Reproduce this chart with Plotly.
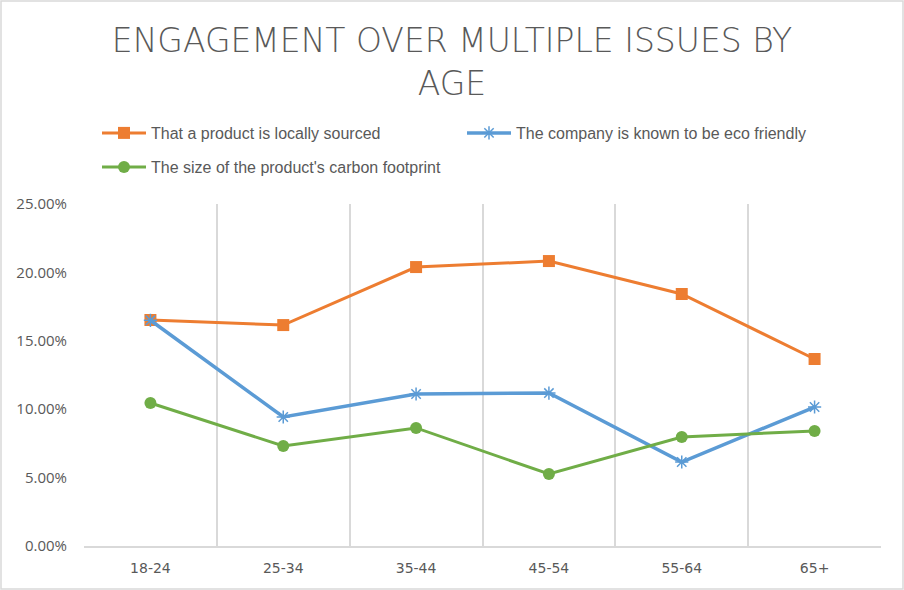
import plotly.graph_objects as go

categories = ["18-24", "25-34", "35-44", "45-54", "55-64", "65+"]
locally_sourced = [0.1652, 0.1615, 0.2039, 0.2083, 0.1842, 0.1367]
eco_friendly = [0.1650, 0.0943, 0.1111, 0.1118, 0.0614, 0.1016]
carbon_footprint = [0.1045, 0.0731, 0.0863, 0.0526, 0.0797, 0.0841]

series_names = [
    "That a product is locally sourced",
    "The company is known to be eco friendly",
    "The size of the product's carbon footprint",
]

W, H = 904, 590
ML, MR, MT, MB = 84, 23, 204, 44
PW, PH = W - ML - MR, H - MT - MB

fig = go.Figure()
fig.add_trace(go.Scatter(
    x=categories, y=locally_sourced, name=series_names[0], mode="lines+markers",
    line=dict(color="#ED7D31", width=3),
    marker=dict(symbol="square", size=12, color="#ED7D31"),
    legend="legend",
))
fig.add_trace(go.Scatter(
    x=categories, y=eco_friendly, name=series_names[1], mode="lines+markers",
    line=dict(color="#5B9BD5", width=3.5),
    marker=dict(symbol="asterisk-open", size=11, color="#5B9BD5", line=dict(width=1.5, color="#5B9BD5")),
    legend="legend",
))
fig.add_trace(go.Scatter(
    x=categories, y=carbon_footprint, name=series_names[2], mode="lines+markers",
    line=dict(color="#70AD47", width=3),
    marker=dict(symbol="circle", size=12, color="#70AD47"),
    legend="legend2",
))

legend_common = dict(
    orientation="h", x=(97 - ML) / PW, xanchor="left",
    entrywidth=306, entrywidthmode="pixels",
    font=dict(size=16, color="#595959"),
    traceorder="normal", itemwidth=44,
    bgcolor="rgba(0,0,0,0)",
)

fig.update_layout(
    width=W, height=H,
    margin=dict(l=ML, r=MR, t=MT, b=MB),
    paper_bgcolor="white", plot_bgcolor="white",
    font=dict(family="Liberation Sans Narrow, Arial Narrow, sans-serif", color="#595959", size=15),
    title=dict(
        text="ENGAGEMENT OVER MULTIPLE ISSUES BY<br>AGE",
        x=0.5, xanchor="center", y=1 - 52 / H, yanchor="middle",
        font=dict(family="DejaVu Sans, sans-serif", size=33, color="#595959", weight=300),
    ),
    legend=dict(legend_common, y=1 + (204 - 116) / PH, yanchor="top"),
    legend2=dict(legend_common, y=1 + (204 - 150) / PH, yanchor="top"),
    showlegend=True,
    shapes=[dict(
        type="rect", xref="paper", yref="paper",
        x0=-(ML - 1) / PW, x1=1 + (MR - 1) / PW,
        y0=-(MB - 1) / PH, y1=1 + (MT - 1) / PH,
        line=dict(color="#d9d9d9", width=1.5), fillcolor="rgba(0,0,0,0)", layer="below",
    )],
)

fig.update_xaxes(
    type="category", range=[-0.5, 5.5], tickson="boundaries",
    showgrid=True, gridcolor="#d9d9d9", gridwidth=1.5,
    showline=True, linecolor="#d9d9d9", linewidth=1.5,
    ticks="", tickfont=dict(family="DejaVu Sans, sans-serif", size=14, color="#595959"),
    ticklabelstandoff=8, zeroline=False,
)
fig.update_yaxes(
    range=[0, 0.25], dtick=0.05, tickformat=".2%",
    showgrid=False, zeroline=False, showline=False, ticks="",
    tickfont=dict(family="Open Sans, sans-serif", size=15, color="#595959"),
    ticklabelstandoff=16,
)

fig.write_html("out.html")
